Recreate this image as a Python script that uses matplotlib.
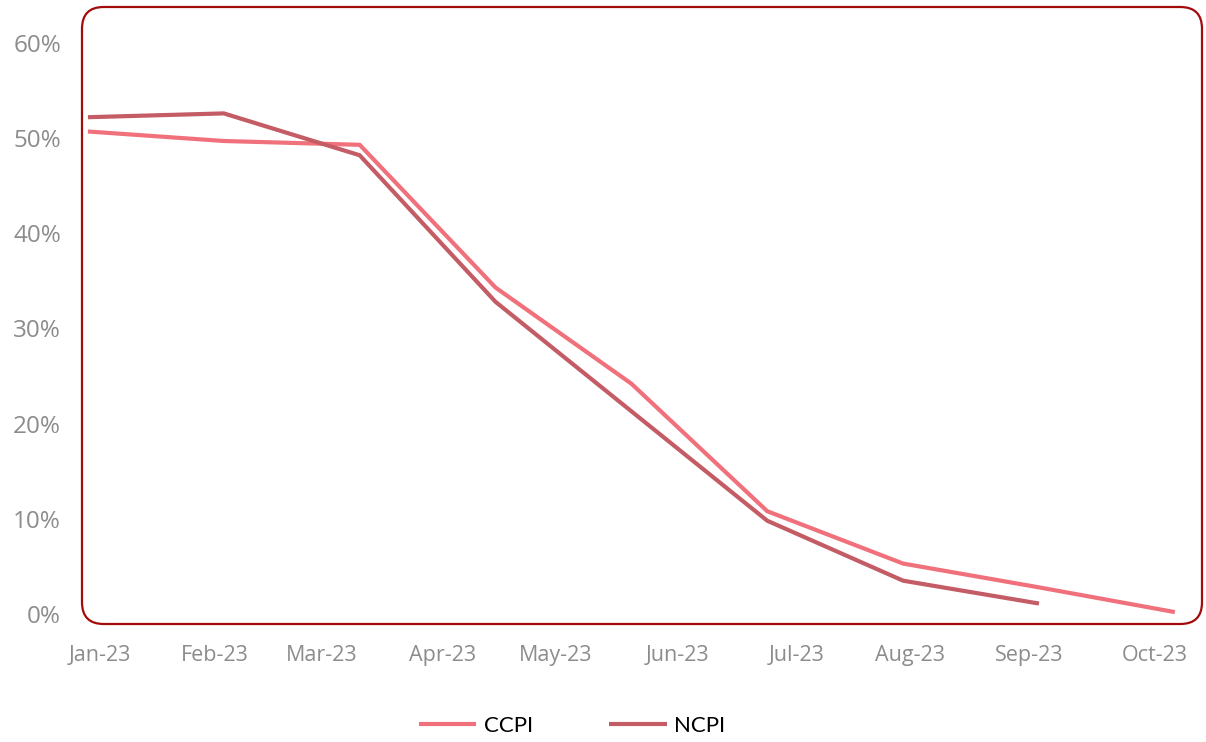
import matplotlib
matplotlib.use("Agg")
from matplotlib import pyplot as plt
from matplotlib.patches import FancyBboxPatch
from matplotlib.ticker import FuncFormatter

months = ['Jan-23', 'Feb-23', 'Mar-23', 'Apr-23', 'May-23',
          'Jun-23', 'Jul-23', 'Aug-23', 'Sep-23', 'Oct-23']
ccpi = [50.7, 49.7, 49.3, 34.3, 24.2, 10.8, 5.3, 2.8, 0.2]
ncpi = [52.2, 52.6, 48.2, 32.8, 21.3, 9.8, 3.5, 1.1]

# the month labels in the original sit a bit off the points
label_pos = [0.09, 0.93, 1.72, 2.61, 3.44, 4.34, 5.22, 6.05, 6.93, 7.85]

fig = plt.figure(figsize=(12.06, 7.42), dpi=100)
ax = fig.add_axes([82 / 1206, 118 / 742, 1120 / 1206, 617 / 742])

ax.plot(range(len(ccpi)), ccpi, color='#F0717B', lw=3, label='CCPI',
        solid_capstyle='butt', solid_joinstyle='miter')
ax.plot(range(len(ncpi)), ncpi, color='#C45C65', lw=3, label='NCPI',
        solid_capstyle='butt', solid_joinstyle='miter')

ax.set_xlim(-0.044, 8.2)
ax.set_ylim(-1.05, 63.78)
ax.set_yticks(range(0, 61, 10))
ax.yaxis.set_major_formatter(FuncFormatter(lambda v, p: f'{v:.0f}%'))
ax.set_xticks(label_pos)
ax.set_xticklabels(months)
ax.tick_params(axis='both', length=0, labelcolor='#8C8C8C')
ax.tick_params(axis='y', pad=15, labelsize=17.5)
ax.tick_params(axis='x', pad=15, labelsize=15.5)
for lab in ax.get_xticklabels() + ax.get_yticklabels():
    lab.set_family(['Open Sans', 'DejaVu Sans'])
for s in ax.spines.values():
    s.set_visible(False)

frame = FancyBboxPatch((82 / 1206, 118 / 742), 1120 / 1206, 617 / 742,
                       boxstyle='round,pad=0,rounding_size=0.018',
                       transform=fig.transFigure, fill=False,
                       edgecolor='#A30B0B', lw=1.6, mutation_aspect=1206 / 742)
fig.patches.append(frame)

fig.legend(loc='center', bbox_to_anchor=(572 / 1206, 1 - 726 / 742), ncol=2,
           frameon=False, handlelength=2.6, columnspacing=3.4, handletextpad=0.35,
           prop={'family': ['Lato', 'DejaVu Sans'], 'size': 16})

fig.savefig('out.png', dpi=100)
